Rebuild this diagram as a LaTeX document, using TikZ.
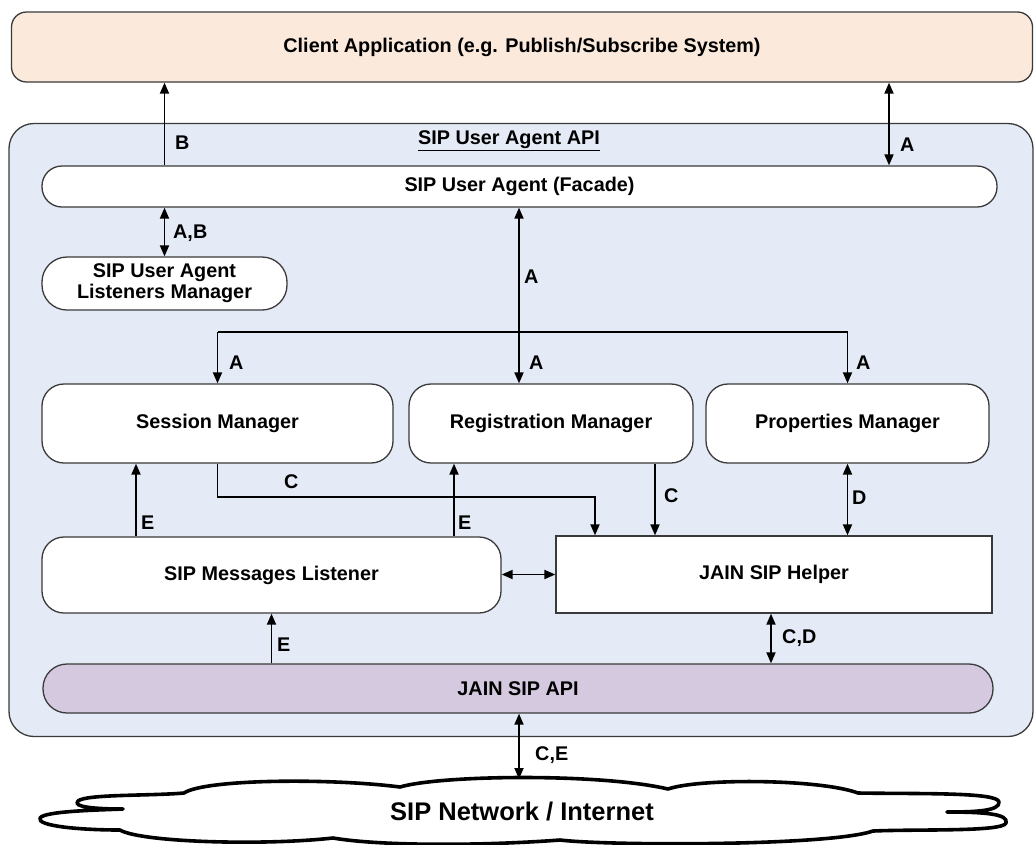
\documentclass[tikz,border=0pt]{standalone}
\usepackage{fontspec}
\setmainfont{Liberation Sans}
\usetikzlibrary{arrows.meta,calc}
\definecolor{clientfill}{HTML}{FBE9DC}
\definecolor{apifill}{HTML}{E4EBF6}
\definecolor{jainfill}{HTML}{D4C9DE}
\definecolor{edge}{HTML}{3A3A3A}
\begin{document}
\begin{tikzpicture}[x=1pt,y=-1pt,
  every node/.style={font=\fontsize{19.8}{23}\selectfont\bfseries, text=black},
  box/.style={draw=edge, line width=1.3pt, fill=white, inner sep=0pt, align=center},
  lbl/.style={anchor=west, inner sep=0pt},
  conn/.style={line width=1.8pt, -{Triangle[length=11pt,width=9pt]}},
  biconn/.style={line width=1.8pt, {Triangle[length=11pt,width=9pt]}-{Triangle[length=11pt,width=9pt]}},
  plain/.style={line width=1.8pt}]
\useasboundingbox (0,0) rectangle (1035,844);

% outer frames
\node[box, fill=clientfill, rounded corners=15pt, minimum width=1021pt, minimum height=70pt]
  (client) at (522,47) {Client Application (e.g. Publish/Subscribe System)};
\node[box, fill=apifill, rounded corners=25pt, minimum width=1024pt, minimum height=613pt]
  (uaapi) at (521,430) {};
\node[inner sep=0pt] (uatitle) at (509,141) {\underline{SIP User Agent API}};

% components
\node[box, rounded corners=20pt, minimum width=955pt, minimum height=41pt]
  (facade) at (519.5,186.5) {SIP User Agent (Facade)};
\node[box, rounded corners=25pt, minimum width=245pt, minimum height=53pt]
  (lm) at (164.5,283.5) {SIP User Agent\\[-2pt]Listeners Manager};
\node[box, rounded corners=22pt, minimum width=351pt, minimum height=79pt]
  (session) at (217.5,423.5) {Session Manager};
\node[box, rounded corners=22pt, minimum width=284pt, minimum height=79pt]
  (reg) at (551,423.5) {Registration Manager};
\node[box, rounded corners=22pt, minimum width=283pt, minimum height=79pt]
  (props) at (847.5,423.5) {Properties Manager};
\node[box, rounded corners=22pt, minimum width=459pt, minimum height=76pt]
  (listener) at (271.5,575) {SIP Messages Listener};
\node[box, minimum width=436pt, minimum height=77pt]
  (helper) at (774,574.5) {JAIN SIP Helper};
\node[box, fill=jainfill, rounded corners=24pt, minimum width=950pt, minimum height=49pt]
  (jain) at (518,688.5) {JAIN SIP API};

% network cloud
\draw[line width=3.6pt, line join=round, fill=white]
  (184,793)
  .. controls (205,779) and (330,778) .. (400,787)
  .. controls (440,775) and (600,773) .. (668,789)
  .. controls (700,778) and (820,779) .. (858,793)
  .. controls (920,794) and (998,792) .. (999,802)
  .. controls (1000,811) and (975,812) .. (947,812)
  .. controls (985,812) and (1009,814) .. (1006,823)
  .. controls (1003,832) and (920,829) .. (873,831)
  .. controls (830,846) and (610,846) .. (560,840)
  .. controls (480,846) and (380,846) .. (333,838)
  .. controls (260,846) and (140,842) .. (120,830)
  .. controls (80,830) and (36,826) .. (40,818)
  .. controls (44,811) and (100,810) .. (123,809)
  .. controls (95,809) and (72,807) .. (78,801)
  .. controls (86,794) and (150,796) .. (184,793) -- cycle;
\node[inner sep=0pt, font=\fontsize{25.5}{30}\selectfont\bfseries] (net) at (522,812) {SIP Network / Internet};
\coordinate (cloudtop) at (519,779);

% helper coordinates for vertical runs
\coordinate (xA) at (889,0);
\coordinate (bus) at (519,332);
\coordinate (busL) at (217.5,332);
\coordinate (busR) at (847.5,332);
\coordinate (xCs) at (595,0);
\coordinate (cbend) at (217.5,497);
\coordinate (xCr) at (655,0);
\coordinate (xEl) at (136,0);
\coordinate (xEr) at (454,0);
\coordinate (xCD) at (771,0);

% connectors
\draw[conn] (facade.north -| lm.north) -- (client.south -| lm.north);
\draw[biconn] (facade.north -| xA) -- (client.south -| xA);
\draw[biconn] (facade.south -| lm.north) -- (lm.north);
\draw[biconn] (facade.south -| bus) -- (reg.north -| bus);
\draw[plain] (busL) -- (busR);
\draw[conn] (busL) -- (session.north);
\draw[conn] (busR) -- (props.north);
\draw[conn] (session.south) -- (cbend) -- (cbend -| xCs) -- (helper.north -| xCs);
\draw[conn] (reg.south -| xCr) -- (helper.north -| xCr);
\draw[biconn] (props.south) -- (helper.north -| props.south);
\draw[conn] (listener.north -| xEl) -- (session.south -| xEl);
\draw[conn] (listener.north -| xEr) -- (reg.south -| xEr);
\draw[biconn] (listener.east |- helper.west) -- (helper.west);
\draw[conn] (jain.north -| listener.south) -- (listener.south);
\draw[biconn] (helper.south -| xCD) -- (jain.north -| xCD);
\draw[biconn] (jain.south -| cloudtop) -- (cloudtop);

% connector labels
\node[lbl] (lB) at (175,143) {B};
\node[lbl] (lA1) at (900,145) {A};
\node[lbl] (lAB) at (173,233) {A,B};
\node[lbl] (lA2) at (524,277) {A};
\node[lbl] (lA3) at (229,363) {A};
\node[lbl] (lA4) at (529,363) {A};
\node[lbl] (lA5) at (856,363) {A};
\node[lbl] (lC1) at (284,482) {C};
\node[lbl] (lC2) at (664,496) {C};
\node[lbl] (lD) at (852,498) {D};
\node[lbl] (lE1) at (141,523) {E};
\node[lbl] (lE2) at (458,523) {E};
\node[lbl] (lE3) at (277,645) {E};
\node[lbl] (lCD) at (782,638) {C,D};
\node[lbl] (lCE) at (535,755) {C,E};
\end{tikzpicture}
\end{document}
